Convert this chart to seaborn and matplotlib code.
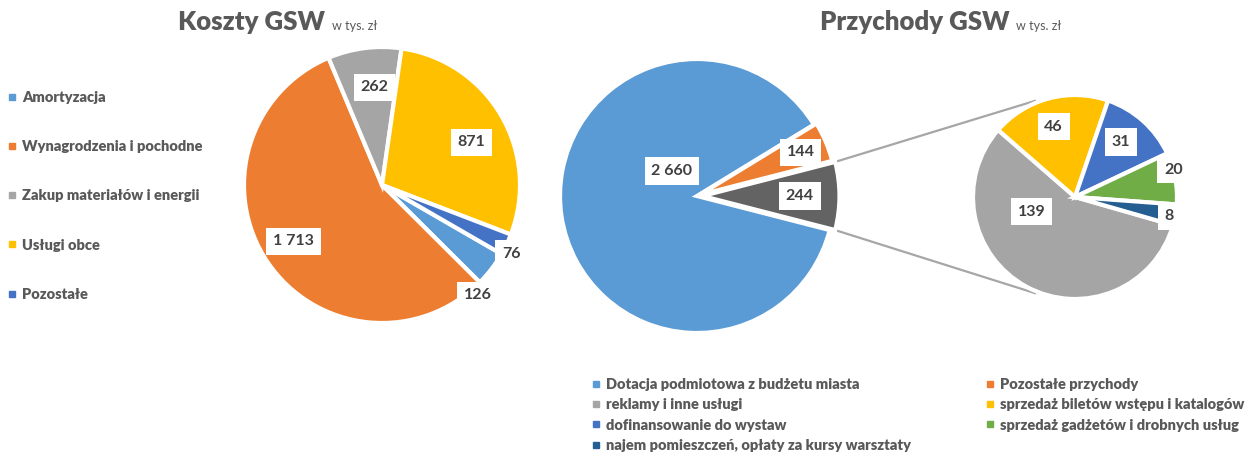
import numpy as np
import matplotlib
matplotlib.use("Agg")
import matplotlib.pyplot as plt
from matplotlib.lines import Line2D
import seaborn as sns

# ---------------- data ----------------
cost_labels = ["Amortyzacja", "Wynagrodzenia i pochodne", "Zakup materiałów i energii",
               "Usługi obce", "Pozostałe"]
cost_values = [126, 1713, 262, 871, 76]
cost_texts = ["126", "1 713", "262", "871", "76"]

main_labels = ["Dotacja podmiotowa z budżetu miasta", "Pozostałe przychody"]
main_values = [2660, 144]
main_texts = ["2 660", "144"]

sub_labels = ["reklamy i inne usługi", "sprzedaż biletów wstępu i katalogów",
              "dofinansowanie do wystaw", "sprzedaż gadżetów i drobnych usług",
              "najem pomieszczeń, opłaty za kursy warsztaty"]
sub_values = [139, 46, 31, 20, 8]
sub_texts = ["139", "46", "31", "20", "8"]
other_text = "244"

# ---------------- style ----------------
sns.set_theme(style="white")
plt.rcParams['font.family'] = ['Lato', 'DejaVu Sans']

cost_colors = ["#5B9BD5", "#ED7D31", "#A5A5A5", "#FFC000", "#4472C4"]
main_colors = ["#5B9BD5", "#ED7D31"]
other_color = "#636363"
sub_colors = ["#A5A5A5", "#FFC000", "#4472C4", "#70AD47", "#255E91"]
TXT = "#404040"
LEG = "#595959"

W, H = 1257, 455
fig = plt.figure(figsize=(W / 100, H / 100), dpi=100)
fig.patch.set_facecolor("white")


def label(ax, center, r_unit, theta_deg, r, off, text):
    a = np.deg2rad(theta_deg + off)
    ax.text(center[0] + r * r_unit * np.cos(a), center[1] + r * r_unit * np.sin(a), text,
            ha="center", va="center", fontsize=11.5, fontweight="bold", color=TXT,
            bbox=dict(boxstyle="square,pad=0.42", fc="white", ec="none"), zorder=5)


wprops = dict(edgecolor="white", linewidth=3)

# ---------------- left pie (Koszty) ----------------
R1 = 138.0
cx1, cy1 = 382, 185
lim = 1.25
ax1 = fig.add_axes([(cx1 - lim * R1) / W, (H - cy1 - lim * R1) / H, 2 * lim * R1 / W, 2 * lim * R1 / H])
wedges1, _ = ax1.pie(cost_values, colors=cost_colors, startangle=-30, counterclock=False,
                     wedgeprops=wprops, radius=1.0)
ax1.set_xlim(-lim, lim)
ax1.set_ylim(-lim, lim)
ax1.set_aspect("equal")
ax1.axis("off")
cost_r = [1.06, 0.76, 0.71, 0.72, 1.06]
cost_off = [-11.5, -1.5, -3, -5, -2.5]
for w, t, r, o in zip(wedges1, cost_texts, cost_r, cost_off):
    label(ax1, (0, 0), 1.0, (w.theta1 + w.theta2) / 2, r, o, t)

# ---------------- right: pie of pie (Przychody) ----------------
R2 = 137.0
cx2, cy2 = 697, 196
x0, x1, y0, y1 = -1.15, 3.65, -1.15, 1.15
ax2 = fig.add_axes([(cx2 + x0 * R2) / W, (H - cy2 + y0 * R2) / H, (x1 - x0) * R2 / W, (y1 - y0) * R2 / H])
other_value = sum(sub_values)
main_all = main_values + [other_value]
other_ang = other_value / sum(main_all) * 360
wedges2, _ = ax2.pie(main_all, colors=main_colors + [other_color], startangle=-other_ang / 2,
                     counterclock=False, wedgeprops=wprops, radius=1.0,
                     explode=[0, 0.02, 0.04])
main_r = [0.26, 0.82, 0.75]
main_off = [-53.5, 0, 0]
for w, t, r, o in zip(wedges2, main_texts + [other_text], main_r, main_off):
    label(ax2, (0, 0), 1.0, (w.theta1 + w.theta2) / 2, r, o, t)

sub_center = (378 / R2, -1 / R2)
sub_rad = 102 / R2
wedges3, _ = ax2.pie(sub_values, colors=sub_colors, startangle=-16, counterclock=False,
                     wedgeprops=wprops, radius=sub_rad, center=sub_center)
sub_r = [0.45, 0.72, 0.70, 1.0, 0.94]
sub_off = [-43, 2, 2, 5, -1.5]
for w, t, r, o in zip(wedges3, sub_texts, sub_r, sub_off):
    label(ax2, sub_center, sub_rad, (w.theta1 + w.theta2) / 2, r, o, t)

# connector lines from the "other" wedge corners to the secondary pie
ow = wedges2[2]
ex = 0.04
mid = np.deg2rad((ow.theta1 + ow.theta2) / 2)
ox, oy = ex * np.cos(mid), ex * np.sin(mid)
for th_main, th_sub in [(ow.theta2, 112), (ow.theta1, -112)]:
    a = np.deg2rad(th_main)
    b = np.deg2rad(th_sub)
    ax2.plot([ox + np.cos(a), sub_center[0] + sub_rad * 1.02 * np.cos(b)],
             [oy + np.sin(a), sub_center[1] + sub_rad * 1.02 * np.sin(b)],
             color="#A6A6A6", lw=1.6, zorder=0, solid_capstyle="butt")

ax2.set_xlim(x0, x1)
ax2.set_ylim(y0, y1)
ax2.set_aspect("equal")
ax2.axis("off")

# ---------------- titles ----------------
renderer = fig.canvas.get_renderer()


def title(x_left, y_base, big, small):
    t = fig.text(x_left / W, 1 - y_base / H, big, fontsize=18.5, fontweight="heavy",
                 color=LEG, ha="left", va="baseline")
    bb = t.get_window_extent(renderer)
    fig.text((bb.x1 + 7) / W, 1 - y_base / H, small, fontsize=9, color=LEG,
             ha="left", va="baseline")


title(178, 30, "Koszty GSW", "w tys. zł")
title(820, 30, "Przychody GSW", "w tys. zł")


# ---------------- legends ----------------
def handles(colors, labels):
    return [Line2D([0], [0], marker="s", linestyle="none", markersize=4.2,
                   markerfacecolor=c, markeredgecolor=c, label=l) for c, l in zip(colors, labels)]


leg_kw = dict(frameon=False, handlelength=0.5, handletextpad=0.45, borderpad=0, borderaxespad=0,
              prop={"weight": "heavy", "size": 10.5}, labelcolor=LEG)

l1 = fig.legend(handles=handles(cost_colors, cost_labels), loc="upper left",
                bbox_to_anchor=(8 / W, 1 - 91 / H), labelspacing=2.48, **leg_kw)

col1_c = [main_colors[0], sub_colors[0], sub_colors[2], sub_colors[4]]
col1_l = [main_labels[0], sub_labels[0], sub_labels[2], sub_labels[4]]
col2_c = [main_colors[1], sub_colors[1], sub_colors[3]]
col2_l = [main_labels[1], sub_labels[1], sub_labels[3]]
l2 = fig.legend(handles=handles(col1_c, col1_l), loc="upper left",
                bbox_to_anchor=(592 / W, 1 - 378 / H), labelspacing=0.5, **leg_kw)
l3 = fig.legend(handles=handles(col2_c, col2_l), loc="upper left",
                bbox_to_anchor=(986 / W, 1 - 378 / H), labelspacing=0.5, **leg_kw)

fig.savefig("out.png", dpi=100, facecolor="white")
